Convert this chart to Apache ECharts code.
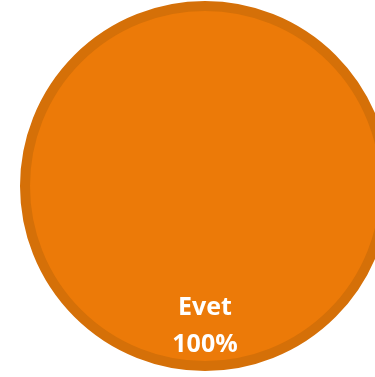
<!DOCTYPE html>
<html>
<head>
<meta charset="utf-8">
<style>
html,body{margin:0;padding:0;background:#fff;}
#chart{width:375px;height:377px;}
</style>
<script src="https://cdn.jsdelivr.net/npm/echarts@6/dist/echarts.min.js"></script>
</head>
<body>
<div id="chart"></div>
<script>
var categories = ['Evet'];
var values = [100];

var chart = echarts.init(document.getElementById('chart'), null, {renderer: 'canvas'});
chart.setOption({
  animation: false,
  series: [{
    type: 'pie',
    center: [205, 186],
    radius: 180,
    startAngle: 90,
    data: categories.map(function (c, i) { return { name: c, value: values[i] }; }),
    itemStyle: {
      color: '#EC7A08',
      borderColor: '#D57008',
      borderWidth: 10
    },
    label: {
      show: true,
      position: 'inside',
      formatter: '{b}\n{d}%',
      color: '#ffffff',
      fontFamily: 'Open Sans',
      fontWeight: 'bold',
      fontSize: 25,
      lineHeight: 37,
      offset: [0, 47]
    },
    labelLine: { show: false },
    emphasis: { disabled: true }
  }]
});
</script>
</body>
</html>
